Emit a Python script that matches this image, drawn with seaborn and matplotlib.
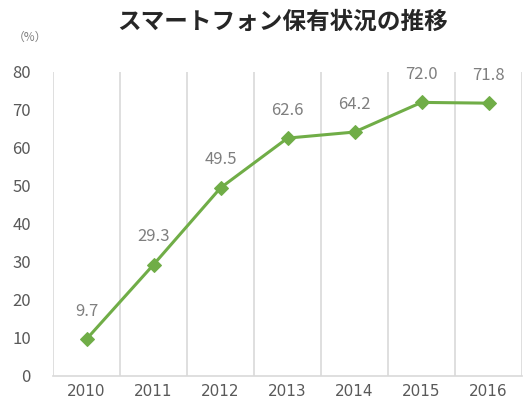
import matplotlib
matplotlib.use("Agg")
import matplotlib.pyplot as plt
import seaborn as sns
import pandas as pd
import numpy as np

years = ["2010", "2011", "2012", "2013", "2014", "2015", "2016"]
values = [9.7, 29.3, 49.5, 62.6, 64.2, 72.0, 71.8]
title = "スマートフォン保有状況の推移"
unit_label = "（%）"

sns.set_theme(style="white")
plt.rcParams['font.family'] = ['Noto Sans CJK JP', 'DejaVu Sans']

df = pd.DataFrame({"pos": np.arange(len(years)), "year": years, "value": values})

fig = plt.figure(figsize=(5.28, 4.05), dpi=100)
ax = fig.add_axes([53/528, 1 - 376/405, (522-53)/528, (376-72)/405])

green = "#70AD47"
sns.lineplot(data=df, x="pos", y="value", ax=ax, color=green, linewidth=2.2,
             marker="D", markersize=7, markeredgecolor=green, markerfacecolor=green)

ax.set_xlim(-0.5, len(years) - 0.5)
ax.set_ylim(0, 80)
ax.set_yticks(range(0, 81, 10))
ax.set_xticks(df["pos"])
ax.set_xticklabels(years)
ax.set_xlabel("")
ax.set_ylabel("")

# vertical gridlines at category boundaries
for b in np.arange(-0.5, len(years), 1.0):
    ax.axvline(b, color="#D9D9D9", linewidth=1.2, zorder=0)
for s in ["top", "right", "left"]:
    ax.spines[s].set_visible(False)
ax.spines["bottom"].set_color("#D9D9D9")
ax.spines["bottom"].set_linewidth(1.2)

ax.tick_params(axis="y", length=0, labelsize=12, labelcolor="#595959", pad=16)
ax.tick_params(axis="x", length=0, labelsize=11, labelcolor="#595959", pad=6)
for t in ax.get_xticklabels():
    t.set_family(["DejaVu Sans"])

for x, v in zip(df["pos"], df["value"]):
    ax.annotate(f"{v:.1f}", (x, v), xytext=(0, 14), textcoords="offset points",
                ha="center", va="bottom", fontsize=12, color="#7F7F7F")

fig.text(283/528, 1 - 22/405, title, ha="center", va="center",
         fontsize=17, fontweight="bold", color="#262626")
fig.text(30/528, 1 - 37/405, unit_label, ha="center", va="center",
         fontsize=8.5, color="#7F7F7F")

fig.savefig("out.png", dpi=100)
